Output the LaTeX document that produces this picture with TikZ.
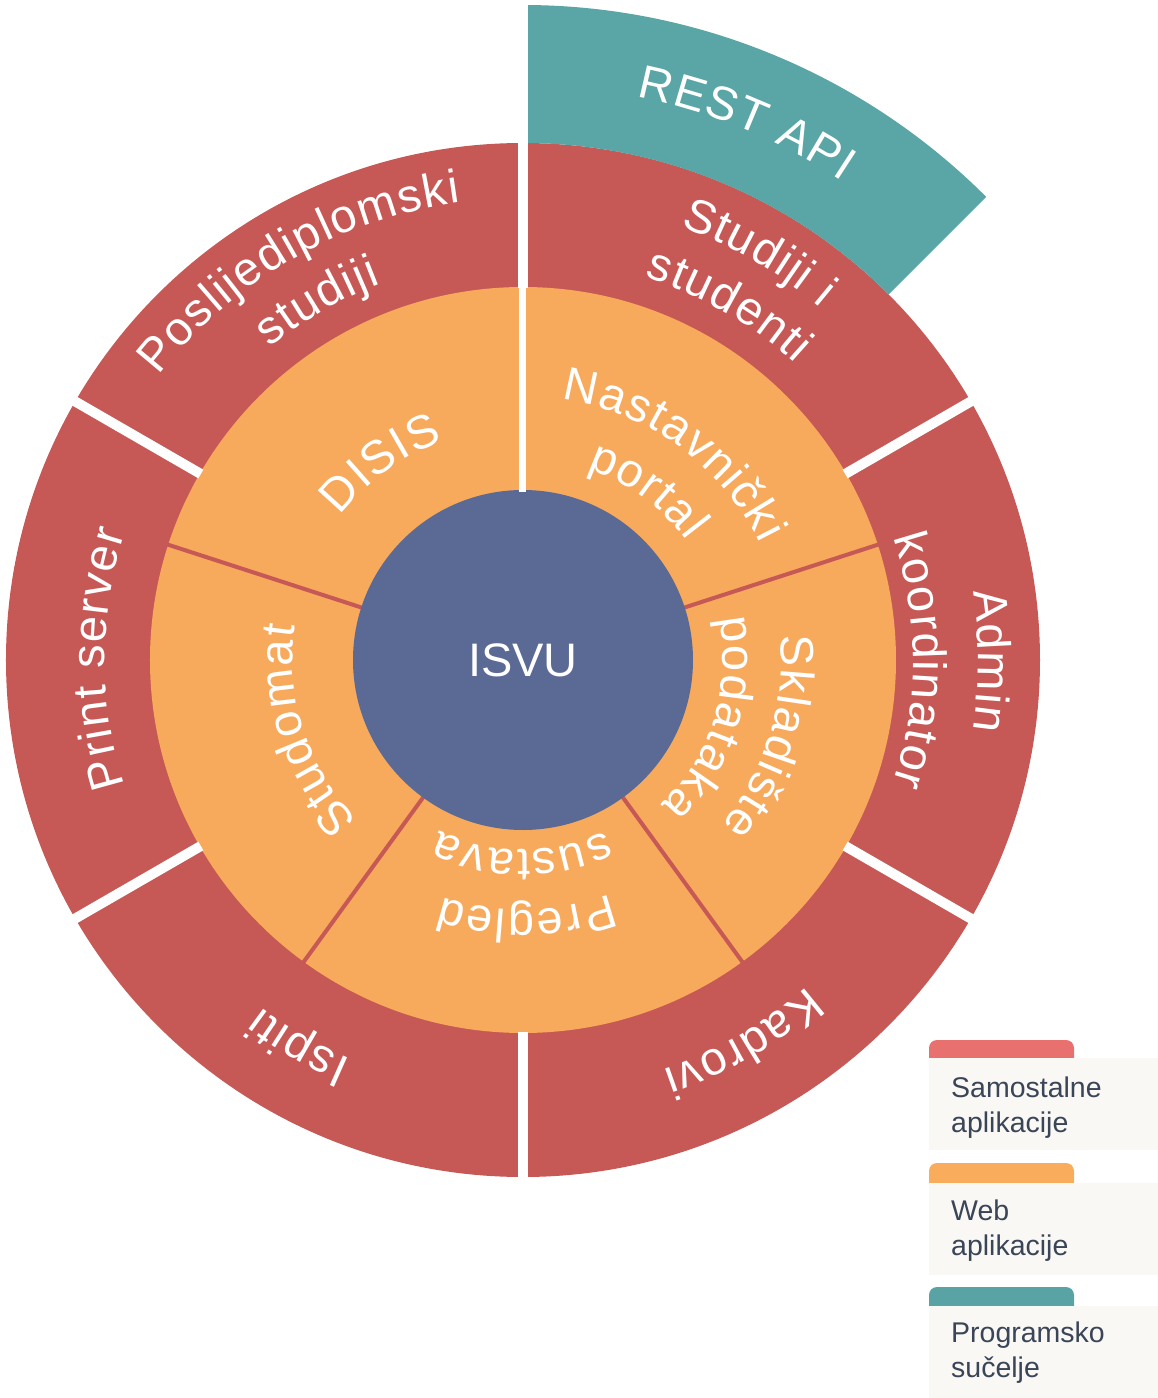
\documentclass[tikz,border=0pt]{standalone}
\usepackage{fontspec}
\setmainfont{Liberation Sans}
\usetikzlibrary{decorations.text}
\definecolor{ringred}{HTML}{C65856}
\definecolor{ringorange}{HTML}{F7A95C}
\definecolor{coreblue}{HTML}{5B6A95}
\definecolor{apiteal}{HTML}{5AA5A5}
\definecolor{legred}{HTML}{E8706F}
\definecolor{legorange}{HTML}{F9AC5C}
\definecolor{legteal}{HTML}{5AA3A5}
\definecolor{legbox}{HTML}{FAF8F4}
\definecolor{legtext}{HTML}{3A4558}
\newcommand\lblfont{\fontsize{47}{47}\selectfont\color{white}\kern1.5pt}
\newcommand\arclabel[3]{%
  \path[decorate,decoration={text along path,text align=center,text={|\lblfont|#3}}]
    ({#1+60}:#2) arc[start angle={#1+60},end angle={#1-60},radius=#2];}
\tikzset{
  gapline/.style={white,line width=10pt,line cap=butt},
  sepline/.style={ringred,line width=4pt,line cap=butt},
  legtxt/.style={anchor=base west,inner sep=0pt,text=legtext,font=\fontsize{28.5}{35}\selectfont},
}
\begin{document}
\begin{tikzpicture}[x=1pt,y=1pt]
\useasboundingbox (-523,-738) rectangle (635,660);
% rings
\fill[ringred] (0,0) circle[radius=517];
\fill[apiteal] (45:517) -- (45:655) arc[start angle=45,end angle=90,radius=655]
  -- (90:517) arc[start angle=90,end angle=45,radius=517] -- cycle;
\fill[ringorange] (0,0) circle[radius=373];
% separators in the orange ring
\foreach \a in {18,162,234,306} \draw[sepline] (\a:168) -- (\a:374);
\fill[coreblue] (0,0) circle[radius=170];
% white gaps in the red ring
\foreach \a in {30,150,210,270,330} \draw[gapline] (\a:372) -- (\a:522);
\draw[gapline] (90:372) -- (90:660);
\draw[white,line width=7pt,line cap=butt] (90:168) -- (90:374);
% centre
\node[font=\fontsize{47}{47}\selectfont,text=white,inner sep=0pt] (isvu) at (0,0) {ISVU};
% outer labels
\arclabel{67.5}{575}{REST API}
\arclabel{120}{462}{Poslijediplomski}
\arclabel{120}{402}{studiji}
\arclabel{60}{461}{Studiji i}
\arclabel{60}{402}{studenti}
\arclabel{0}{455}{Admin}
\arclabel{0}{390}{koordinator}
\arclabel{-60}{433}{Kadrovi}
\arclabel{-120}{435}{Ispiti}
\arclabel{180}{418}{Print server}
% inner labels
\arclabel{126}{233}{DISIS}
\arclabel{54}{264}{Nastavnički}
\arclabel{54}{202}{portal}
\arclabel{-17}{258}{Skladište}
\arclabel{-17}{200}{podataka}
\arclabel{-89}{250}{Pregled}
\arclabel{-90}{190}{sustava}
\arclabel{198}{230}{Studomat}
% legend
\fill[legred] (406,-398) [rounded corners=8pt] -- (406,-380) -- (551,-380) [sharp corners] -- (551,-398) -- cycle;
\fill[legbox] (406,-490) rectangle (635,-398);
\node[legtxt] (leg1a) at (428,-437) {Samostalne};
\node[legtxt] (leg1b) at (428,-472) {aplikacije};
\fill[legorange] (406,-523) [rounded corners=8pt] -- (406,-503) -- (551,-503) [sharp corners] -- (551,-523) -- cycle;
\fill[legbox] (406,-615) rectangle (635,-523);
\node[legtxt] (leg2a) at (428,-560) {Web};
\node[legtxt] (leg2b) at (428,-595) {aplikacije};
\fill[legteal] (406,-646) [rounded corners=8pt] -- (406,-627) -- (551,-627) [sharp corners] -- (551,-646) -- cycle;
\fill[legbox] (406,-738) rectangle (635,-646);
\node[legtxt] (leg3a) at (428,-682) {Programsko};
\node[legtxt] (leg3b) at (428,-717) {sučelje};
\end{tikzpicture}
\end{document}
